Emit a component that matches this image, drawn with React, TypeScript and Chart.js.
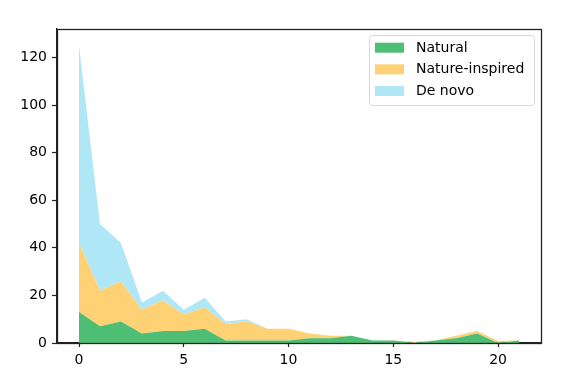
import React, { useEffect, useRef } from "react";
import { Chart, registerables } from "chart.js";

Chart.register(...registerables);

const xValues = [0, 1, 2, 3, 4, 5, 6, 7, 8, 9, 10, 11, 12, 13, 14, 15, 16, 17, 18, 19, 20, 21];
const natural = [13, 7, 9, 4, 5, 5, 6, 1, 1, 1, 1, 2, 2, 3, 1, 1, 0, 1, 2, 4, 0, 1];
const natureInspired = [29, 15, 17, 10, 13, 7, 9, 7, 8, 5, 5, 2, 1, 0, 0, 0, 0.5, 0, 1, 1, 0.8, 0];
const deNovo = [83, 28, 16, 3, 4, 2, 4, 1, 1, 0, 0, 0, 0, 0, 0, 0, 0, 0, 0, 0, 0, 0];
const seriesNames = ["Natural", "Nature-inspired", "De novo"];
const seriesColors = ["#4dbe74", "#fed175", "#b0e7f6"];
const xTicks = [0, 5, 10, 15, 20];
const yTicks = [0, 20, 40, 60, 80, 100, 120];

const FONT = "DejaVu Sans";
const FONT_SIZE = 14;

const framePlugin = {
  id: "frame",
  afterDraw(chart: any) {
    const { ctx, chartArea } = chart;
    const { left, right, top, bottom } = chartArea;
    ctx.save();
    ctx.strokeStyle = "#222";
    ctx.lineWidth = 1.3;
    ctx.strokeRect(Math.round(left) + 0.5, Math.round(top) + 0.5, Math.round(right - left), Math.round(bottom - top));
    // legend
    const lx = 369.5, ly = 35.5, lw = 165, lh = 70;
    ctx.fillStyle = "rgba(255,255,255,0.8)";
    ctx.strokeStyle = "#d8d8d8";
    ctx.lineWidth = 1;
    ctx.beginPath();
    const r = 3;
    ctx.moveTo(lx + r, ly);
    ctx.lineTo(lx + lw - r, ly);
    ctx.quadraticCurveTo(lx + lw, ly, lx + lw, ly + r);
    ctx.lineTo(lx + lw, ly + lh - r);
    ctx.quadraticCurveTo(lx + lw, ly + lh, lx + lw - r, ly + lh);
    ctx.lineTo(lx + r, ly + lh);
    ctx.quadraticCurveTo(lx, ly + lh, lx, ly + lh - r);
    ctx.lineTo(lx, ly + r);
    ctx.quadraticCurveTo(lx, ly, lx + r, ly);
    ctx.closePath();
    ctx.fill();
    ctx.stroke();
    ctx.font = `${FONT_SIZE}px "${FONT}"`;
    ctx.textBaseline = "middle";
    ctx.textAlign = "left";
    const rows = [47.7, 69.3, 91];
    seriesNames.forEach((name, i) => {
      ctx.fillStyle = seriesColors[i];
      ctx.fillRect(375, rows[i] - 5, 29, 10);
      ctx.fillStyle = "#000";
      ctx.fillText(name, 416, rows[i] + 0.5);
    });
    ctx.restore();
  },
};

export default function App() {
  const ref = useRef<HTMLCanvasElement>(null);
  useEffect(() => {
    document.body.style.margin = "0";
    const all = [natural, natureInspired, deNovo];
    const chart = new Chart(ref.current!, {
      type: "line",
      data: {
        datasets: all.map((arr, i) => ({
          label: seriesNames[i],
          data: xValues.map((x, j) => ({ x, y: arr[j] })),
          backgroundColor: seriesColors[i],
          borderColor: seriesColors[i],
          borderWidth: 0,
          pointRadius: 0,
          tension: 0,
          fill: i === 0 ? "origin" : "-1",
        })),
      },
      options: {
        responsive: false,
        animation: false,
        layout: { padding: { left: 0, top: 29, right: 31, bottom: 0 } },
        plugins: { legend: { display: false }, tooltip: { enabled: false } },
        scales: {
          x: {
            type: "linear",
            min: -1.05,
            max: 22.05,
            grid: { drawOnChartArea: false, color: "#222", tickLength: 4, tickWidth: 1.2 },
            border: { display: true, color: "#222", width: 1.3 },
            ticks: { font: { family: FONT, size: FONT_SIZE }, color: "#000", padding: 5, maxRotation: 0 },
            afterBuildTicks: (s: any) => {
              s.ticks = xTicks.map((v) => ({ value: v }));
            },
            afterFit: (s: any) => {
              s.height = 36;
            },
          },
          y: {
            stacked: true,
            min: 0,
            max: 132,
            grid: { drawOnChartArea: false, color: "#222", tickLength: 5, tickWidth: 1.2 },
            border: { display: true, color: "#222", width: 1.3 },
            ticks: { font: { family: FONT, size: FONT_SIZE }, color: "#000", padding: 5 },
            afterBuildTicks: (s: any) => {
              s.ticks = yTicks.map((v) => ({ value: v }));
            },
            afterFit: (s: any) => {
              s.width = 57;
            },
          },
        },
      },
      plugins: [framePlugin],
    });
    return () => chart.destroy();
  }, []);
  return (
    <div style={{ width: 572, height: 379, background: "#fff" }}>
      <canvas ref={ref} width={572} height={379} style={{ display: "block" }} />
    </div>
  );
}
